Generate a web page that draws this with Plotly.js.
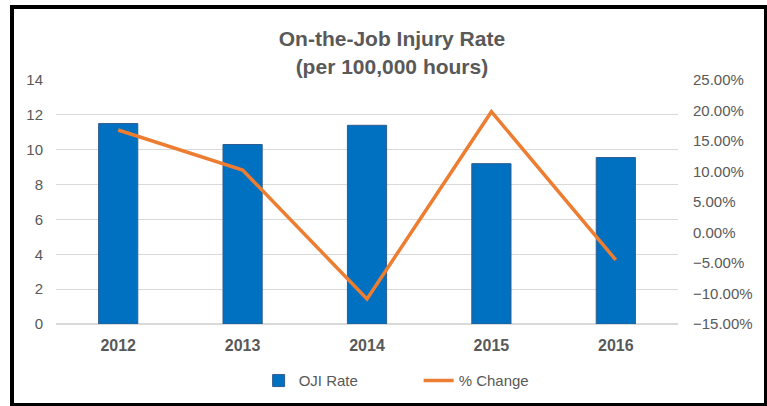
<!DOCTYPE html>
<html>
<head>
<meta charset="utf-8">
<script src="https://cdn.plot.ly/plotly-3.0.1.min.js"></script>
<style>
  body { margin: 0; background: #fff; }
  #myDiv { width: 767px; height: 406px; }
  #frame {
    position: absolute; left: 10px; top: 5px; width: 750px; height: 394px;
    border: 4px solid #000; border-bottom-width: 3px; border-right-width: 3px;
    pointer-events: none;
  }
</style>
</head>
<body>
<div id="myDiv"></div>
<div id="frame"></div>
<script>
// Chart data
const years = ['2012', '2013', '2014', '2015', '2016'];
const ojiRate = [11.5, 10.3, 11.4, 9.2, 9.55];
const pctChange = [0.168, 0.1025, -0.109, 0.198, -0.045];

const textColor = '#595959';

var bars = {
    x: years,
    y: ojiRate,
    name: 'OJI Rate',
    type: 'bar',
    width: 0.315,
    marker: {
        color: '#0070C0',
        line: { color: '#2F5C8F', width: 1 }
    }
};

var line = {
    x: years,
    y: pctChange,
    name: '% Change',
    type: 'scatter',
    mode: 'lines',
    yaxis: 'y2',
    line: { color: '#ED7D31', width: 3.5 }
};

var layout = {
    width: 767,
    height: 406,
    margin: { l: 56, r: 89, t: 80, b: 82 },
    paper_bgcolor: '#fff',
    plot_bgcolor: '#fff',
    font: { family: 'Liberation Sans, Arial, sans-serif', color: textColor, size: 15 },
    title: {
        text: '<b>On-the-Job Injury Rate<br>(per 100,000 hours)</b>',
        font: { size: 21, color: textColor },
        x: 0.511,
        xref: 'container',
        xanchor: 'center',
        y: 0.886,
        yref: 'container',
        yanchor: 'top'
    },
    xaxis: {
        type: 'category',
        tickfont: { size: 16, color: textColor, weight: 'bold' },
        showline: false,
        ticks: '',
        ticklabelstandoff: 10
    },
    yaxis: {
        range: [0, 14],
        dtick: 2,
        gridcolor: '#D9D9D9',
        gridwidth: 1,
        zeroline: true,
        zerolinecolor: '#D9D9D9',
        zerolinewidth: 1.5,
        ticks: '',
        ticklabelstandoff: 12
    },
    yaxis2: {
        overlaying: 'y',
        side: 'right',
        range: [-0.15, 0.25],
        dtick: 0.05,
        tickformat: '.2%',
        showgrid: false,
        zeroline: false,
        ticks: '',
        ticklabelstandoff: 14
    },
    bargap: 0.685,
    showlegend: true,
    legend: {
        orientation: 'h',
        x: 0.583,
        xanchor: 'center',
        y: 0.062,
        yref: 'container',
        yanchor: 'middle',
        font: { size: 15, color: textColor },
        entrywidth: 115,
        traceorder: 'normal'
    }
};

Plotly.newPlot('myDiv', [bars, line], layout, { displayModeBar: false });
</script>
</body>
</html>
